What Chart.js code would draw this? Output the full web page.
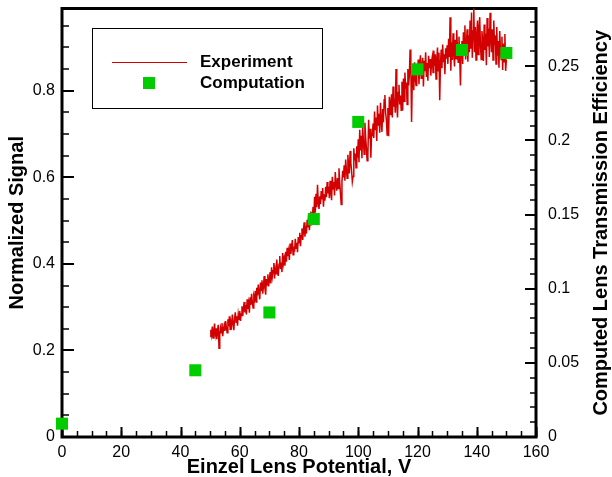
<!DOCTYPE html>
<html>
<head>
<meta charset="utf-8">
<script src="https://cdn.jsdelivr.net/npm/chart.js@4.4.1/dist/chart.umd.min.js"></script>
<style>
    body { margin: 0; background: #fff; }
    #wrap { width: 612px; height: 477px; }
</style>
</head>
<body>
<div id="wrap"><canvas id="myChart" width="612" height="477"></canvas></div>
<script>
// experiment trace, sampled every 0.25 V from 50 V
const expStart = 50;
const expStep = 0.25;
const expSignal = [
    0.232, 0.248, 0.236, 0.255, 0.229, 0.244, 0.262, 0.238, 0.251, 0.226, 0.247, 0.259, 0.205, 0.238, 0.252, 0.241, 0.263, 0.233, 0.249, 0.258,
    0.245, 0.268, 0.252, 0.241, 0.272, 0.256, 0.279, 0.249, 0.266, 0.258, 0.283, 0.262, 0.247, 0.274, 0.288, 0.265, 0.279, 0.257, 0.284, 0.272,
    0.291, 0.268, 0.284, 0.302, 0.279, 0.297, 0.312, 0.288, 0.305, 0.283, 0.318, 0.296, 0.309, 0.287, 0.323, 0.305, 0.331, 0.311, 0.298, 0.326,
    0.319, 0.338, 0.312, 0.345, 0.327, 0.352, 0.334, 0.318, 0.357, 0.339, 0.362, 0.331, 0.348, 0.372, 0.343, 0.329, 0.365, 0.351, 0.376, 0.348,
    0.362, 0.381, 0.355, 0.392, 0.371, 0.384, 0.402, 0.366, 0.389, 0.377, 0.41, 0.385, 0.372, 0.399, 0.418, 0.388, 0.403, 0.381, 0.425, 0.401,
    0.412, 0.396, 0.428, 0.405, 0.437, 0.418, 0.43, 0.409, 0.447, 0.423, 0.438, 0.455, 0.421, 0.44, 0.428, 0.458, 0.436, 0.449, 0.427, 0.462,
    0.449, 0.472, 0.441, 0.465, 0.482, 0.455, 0.478, 0.496, 0.463, 0.488, 0.47, 0.502, 0.484, 0.512, 0.478, 0.497, 0.521, 0.489, 0.508, 0.532,
    0.498, 0.555, 0.518, 0.562, 0.531, 0.583, 0.542, 0.527, 0.556, 0.538, 0.568, 0.549, 0.575, 0.532, 0.561, 0.546, 0.578, 0.554, 0.589, 0.563,
    0.578, 0.552, 0.592, 0.566, 0.547, 0.601, 0.573, 0.589, 0.558, 0.612, 0.584, 0.569, 0.598, 0.574, 0.621, 0.588, 0.562, 0.537, 0.59, 0.615,
    0.6, 0.628, 0.592, 0.641, 0.617, 0.598, 0.652, 0.624, 0.609, 0.661, 0.633, 0.615, 0.59, 0.602, 0.667, 0.639, 0.655, 0.622, 0.672, 0.645,
    0.688, 0.635, 0.71, 0.662, 0.696, 0.644, 0.719, 0.681, 0.653, 0.726, 0.692, 0.668, 0.638, 0.652, 0.733, 0.689, 0.712, 0.645, 0.7, 0.698,
    0.724, 0.691, 0.752, 0.709, 0.738, 0.684, 0.766, 0.721, 0.747, 0.703, 0.772, 0.731, 0.705, 0.758, 0.727, 0.779, 0.79, 0.748, 0.732, 0.698,
    0.76, 0.695, 0.786, 0.745, 0.771, 0.792, 0.738, 0.81, 0.763, 0.782, 0.749, 0.85, 0.772, 0.738, 0.796, 0.814, 0.768, 0.789, 0.755, 0.821,
    0.755, 0.828, 0.776, 0.842, 0.805, 0.819, 0.768, 0.85, 0.812, 0.835, 0.895, 0.858, 0.728, 0.826, 0.848, 0.801, 0.866, 0.83, 0.812, 0.855,
    0.838, 0.872, 0.815, 0.861, 0.882, 0.829, 0.857, 0.876, 0.81, 0.869, 0.845, 0.889, 0.832, 0.864, 0.823, 0.881, 0.852, 0.873, 0.835, 0.868,
    0.879, 0.842, 0.893, 0.858, 0.884, 0.827, 0.871, 0.9, 0.846, 0.888, 0.778, 0.861, 0.895, 0.852, 0.907, 0.866, 0.884, 0.838, 0.898, 0.874,
    0.905, 0.862, 0.92, 0.878, 0.97, 0.846, 0.912, 0.871, 0.933, 0.885, 0.856, 0.918, 0.874, 0.94, 0.892, 0.866, 0.925, 0.88, 0.812, 0.899,
    0.915, 0.862, 0.935, 0.884, 0.951, 0.872, 0.906, 0.942, 0.867, 0.928, 0.889, 0.962, 0.897, 0.981, 0.876, 0.938, 0.992, 0.889, 0.947, 0.871,
    0.928, 0.962, 0.884, 0.945, 0.97, 0.905, 0.872, 0.938, 0.916, 0.869, 0.953, 0.894, 0.932, 0.859, 0.968, 0.902, 0.944, 0.878, 0.98, 0.921,
    0.889, 0.942, 0.871, 0.962, 0.905, 0.928, 0.862, 0.947, 0.881, 0.915, 0.853, 0.938, 0.896, 0.872, 0.925, 0.848, 0.909, 0.867, 0.931, 0.846,
    0.872
];

// computed transmission efficiency (right axis)
const compVolts = [0, 45, 70, 85, 100, 120, 135, 150];
const compEff = [0.009, 0.045, 0.084, 0.147, 0.2125, 0.248, 0.261, 0.259];

// axis ranges / ticks
const xMax = 160, xMajor = 20, xMinor = 5;
const yMax = 0.99, yMajor = 0.2, yMinor = 0.05;
const y2Max = 0.289, y2Major = 0.05, y2Minor = 0.01;

const fontFam = "'Liberation Sans', Arial, Helvetica, sans-serif";

let expPoints = [];
for (let i = 0; i < expSignal.length; i++) {
    expPoints.push({ x: expStart + i * expStep, y: expSignal[i] });
}
let compPoints = [];
for (let i = 0; i < compVolts.length; i++) {
    compPoints.push({ x: compVolts[i], y: compEff[i] });
}

function fmt(v) {
    return String(Math.round(v * 1000) / 1000);
}

/* frame + inward tick marks */
const frameTicks = {
    id: "frameTicks",
    beforeDatasetsDraw(chart) {
        const ctx = chart.ctx;
        const a = chart.chartArea;
        const sx = chart.scales.x, sy = chart.scales.y, sy2 = chart.scales.y2;
        ctx.save();
        ctx.strokeStyle = "#000";

        function tickRun(max, step, len, width, draw) {
            ctx.lineWidth = width;
            for (let k = 0; k * step <= max + 1e-9; k++) {
                draw(k * step, len);
            }
        }
        // x axis
        const xt = (v, len) => {
            const p = Math.round(sx.getPixelForValue(v)) + 0.5;
            ctx.beginPath(); ctx.moveTo(p, a.bottom); ctx.lineTo(p, a.bottom - len); ctx.stroke();
        };
        tickRun(xMax, xMinor, 6, 1.5, xt);
        tickRun(xMax, xMajor, 10, 2, xt);
        // left axis
        const yt = (v, len) => {
            const p = Math.round(sy.getPixelForValue(v));
            ctx.beginPath(); ctx.moveTo(a.left, p); ctx.lineTo(a.left + len, p); ctx.stroke();
        };
        tickRun(yMax, yMinor, 7, 1.5, yt);
        tickRun(yMax, yMajor, 12, 2, yt);
        // right axis
        const y2t = (v, len) => {
            const p = Math.round(sy2.getPixelForValue(v));
            ctx.beginPath(); ctx.moveTo(a.right, p); ctx.lineTo(a.right - len, p); ctx.stroke();
        };
        tickRun(y2Max, y2Minor, 6, 1.5, y2t);
        tickRun(y2Max, y2Major, 11, 2, y2t);

        ctx.lineWidth = 3;
        ctx.strokeRect(a.left, a.top, a.right - a.left, a.bottom - a.top);
        ctx.restore();
    },
    afterDraw(chart) {
        const ctx = chart.ctx;
        const a = chart.chartArea;
        ctx.save();
        /* right axis title, reading upwards */
        ctx.fillStyle = "#000";
        ctx.font = "bold 20px " + fontFam;
        ctx.textAlign = "center";
        ctx.textBaseline = "middle";
        ctx.translate(601, (a.top + a.bottom) / 2);
        ctx.rotate(-Math.PI / 2);
        ctx.fillText("Computed Lens Transmission Efficiency", 0, 0);
        ctx.restore();

        /* legend box */
        const ds = chart.data.datasets;
        ctx.save();
        ctx.fillStyle = "#fff";
        ctx.fillRect(92, 28, 231, 81);
        ctx.strokeStyle = "#000";
        ctx.lineWidth = 1;
        ctx.strokeRect(92.5, 28.5, 230, 80);
        ctx.strokeStyle = ds[0].borderColor;
        ctx.beginPath(); ctx.moveTo(112, 62.5); ctx.lineTo(187, 62.5); ctx.stroke();
        ctx.fillStyle = ds[1].backgroundColor;
        ctx.fillRect(143, 77, 12, 12);
        ctx.fillStyle = "#000";
        ctx.font = "bold 17px " + fontFam;
        ctx.textBaseline = "middle";
        ctx.fillText(ds[0].label, 200, 62);
        ctx.fillText(ds[1].label, 200, 83);
        ctx.restore();
    }
};

function fixV(w) {
    return s => { s.width = w; s.paddingTop = 0; s.paddingBottom = 0; };
}

let ctx = document.getElementById("myChart");
let myChart = new Chart(ctx, {
    type: "line",
    data: {
        datasets: [{
            label: "Experiment",
            data: expPoints,
            xAxisID: "x",
            yAxisID: "y",
            borderColor: "rgb(210, 0, 0)",
            borderWidth: 1.5,
            pointRadius: 0,
            tension: 0,
            order: 1
        }, {
            label: "Computation",
            type: "scatter",
            data: compPoints,
            xAxisID: "x",
            yAxisID: "y2",
            backgroundColor: "rgb(0, 204, 0)",
            borderWidth: 0,
            pointStyle: "rect",
            pointRadius: 8.5,
            clip: false,
            order: 0
        }]
    },
    options: {
        responsive: false,
        animation: false,
        devicePixelRatio: 1,
        layout: { padding: { top: 6, left: 0, right: 0, bottom: 0 } },
        plugins: {
            legend: { display: false },
            tooltip: { enabled: false }
        },
        scales: {
            x: {
                type: "linear",
                position: "bottom",
                min: 0,
                max: xMax,
                afterFit: s => { s.height = 40; s.paddingLeft = 0; s.paddingRight = 0; },
                grid: { display: false, drawTicks: false },
                border: { display: false },
                ticks: {
                    stepSize: xMajor,
                    padding: 6,
                    color: "#000",
                    font: { family: fontFam, size: 16 },
                    callback: v => fmt(v)
                },
                title: {
                    display: true,
                    text: "Einzel Lens Potential, V",
                    color: "#000",
                    font: { family: fontFam, size: 20, weight: "bold" },
                    padding: { top: 0, bottom: -2 }
                }
            },
            y: {
                type: "linear",
                position: "left",
                min: 0,
                max: yMax,
                afterFit: fixV(62),
                grid: { display: false, drawTicks: false },
                border: { display: false },
                ticks: {
                    stepSize: yMajor,
                    includeBounds: false,
                    padding: 7,
                    color: "#000",
                    font: { family: fontFam, size: 16 },
                    callback: v => fmt(v)
                },
                title: {
                    display: true,
                    text: "Normalized Signal",
                    color: "#000",
                    font: { family: fontFam, size: 20, weight: "bold" },
                    padding: { top: 5, bottom: 0 }
                }
            },
            y2: {
                type: "linear",
                position: "right",
                min: 0,
                max: y2Max,
                afterFit: fixV(76),
                grid: { display: false, drawTicks: false },
                border: { display: false },
                ticks: {
                    stepSize: y2Major,
                    includeBounds: false,
                    padding: 12,
                    color: "#000",
                    font: { family: fontFam, size: 16 },
                    callback: v => fmt(v)
                }
            }
        }
    },
    plugins: [frameTicks]
});
</script>
</body>
</html>
